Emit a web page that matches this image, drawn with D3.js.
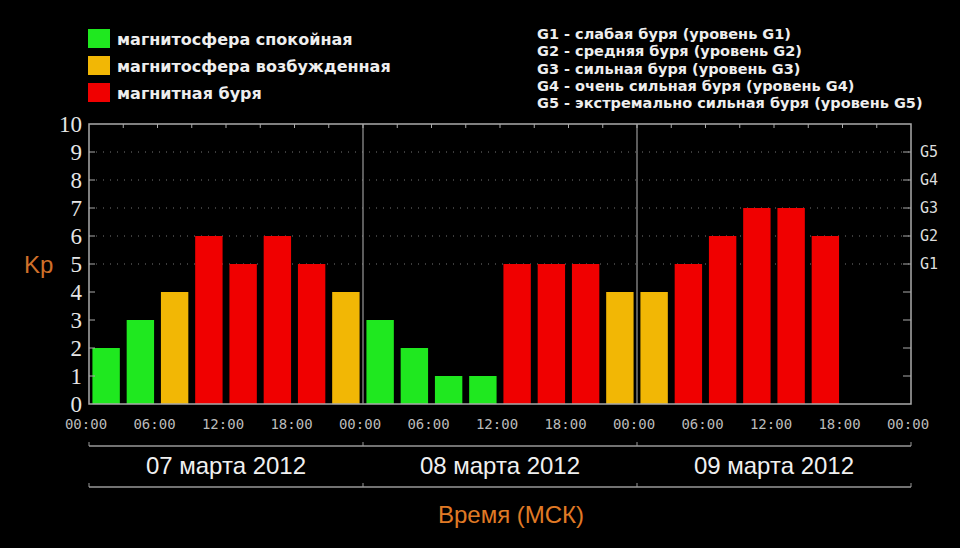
<!DOCTYPE html>
<html>
<head>
<meta charset="utf-8">
<script src="https://cdn.jsdelivr.net/npm/d3@7"></script>
<style>
  body { margin: 0; background: #000; }
  svg { display: block; background: #000; }
</style>
</head>
<body>
<div id="vis"></div>
<script>
const FRAME_WIDTH = 960;
const FRAME_HEIGHT = 548;
const MARGINS = {left: 89, right: 49, top: 124, bottom: 144};
const VIS_WIDTH = FRAME_WIDTH - MARGINS.left - MARGINS.right;
const VIS_HEIGHT = FRAME_HEIGHT - MARGINS.top - MARGINS.bottom;

// data: Kp index, 3-hour intervals
const days = ["07 марта 2012", "08 марта 2012", "09 марта 2012"];
const kpDay1 = [2, 3, 4, 6, 5, 6, 5, 4];
const kpDay2 = [3, 2, 1, 1, 5, 5, 5, 4];
const kpDay3 = [4, 5, 6, 7, 7, 6];
const hourLabels = ["00:00", "06:00", "12:00", "18:00"];
const yTicks = [0, 1, 2, 3, 4, 5, 6, 7, 8, 9, 10];
const gLevels = ["G1", "G2", "G3", "G4", "G5"];
const legendItems = ["магнитосфера спокойная", "магнитосфера возбужденная", "магнитная буря"];
const legendColors = ["#1fe81f", "#f2b705", "#f00000"];
const gDescriptions = [
  "G1 - слабая буря (уровень G1)",
  "G2 - средняя буря (уровень G2)",
  "G3 - сильная буря (уровень G3)",
  "G4 - очень сильная буря (уровень G4)",
  "G5 - экстремально сильная буря (уровень G5)"
];

const bars = [];
[kpDay1, kpDay2, kpDay3].forEach((arr, di) => {
  arr.forEach((v, i) => { bars.push({hour: di * 24 + i * 3, kp: v}); });
});

function kpColor(v) {
  if (v < 4) return legendColors[0];
  if (v < 5) return legendColors[1];
  return legendColors[2];
}

const FRAME = d3.select("#vis")
                .append("svg")
                .attr("width", FRAME_WIDTH)
                .attr("height", FRAME_HEIGHT);

const X_SCALE = d3.scaleLinear().domain([0, 72]).range([0, VIS_WIDTH]);
const Y_SCALE = d3.scaleLinear().domain([0, 10]).range([VIS_HEIGHT, 0]);

const G = FRAME.append("g")
               .attr("transform", "translate(" + MARGINS.left + "," + MARGINS.top + ")");

// dotted grid for storm levels
G.selectAll(".grid")
 .data([5, 6, 7, 8, 9])
 .enter()
 .append("line")
   .attr("x1", 0).attr("x2", VIS_WIDTH)
   .attr("y1", d => Y_SCALE(d)).attr("y2", d => Y_SCALE(d))
   .attr("stroke", "#777")
   .attr("stroke-width", 1)
   .attr("stroke-dasharray", "1,6");

// bars
const slot = X_SCALE(3) - X_SCALE(0);
G.selectAll(".bar")
 .data(bars)
 .enter()
 .append("rect")
   .attr("x", d => X_SCALE(d.hour) + slot * 0.1)
   .attr("width", slot * 0.8)
   .attr("y", d => Y_SCALE(d.kp))
   .attr("height", d => VIS_HEIGHT - Y_SCALE(d.kp))
   .attr("fill", d => kpColor(d.kp));

// frame and day separators
G.append("rect")
 .attr("x", 0).attr("y", 0)
 .attr("width", VIS_WIDTH).attr("height", VIS_HEIGHT)
 .attr("fill", "none")
 .attr("stroke", "#aaa")
 .attr("stroke-width", 1.5);

G.selectAll(".sep")
 .data([24, 48])
 .enter()
 .append("line")
   .attr("x1", d => X_SCALE(d)).attr("x2", d => X_SCALE(d))
   .attr("y1", 0).attr("y2", VIS_HEIGHT)
   .attr("stroke", "#999")
   .attr("stroke-width", 1.2);

// small ticks along top edge every 3 hours
G.selectAll(".ttick")
 .data(d3.range(3, 72, 3))
 .enter()
 .append("line")
   .attr("x1", d => X_SCALE(d)).attr("x2", d => X_SCALE(d))
   .attr("y1", 0).attr("y2", 4)
   .attr("stroke", "#aaa");

// inner ticks on left and right axes
G.selectAll(".ltick")
 .data(yTicks.slice(1, 10))
 .enter()
 .append("line")
   .attr("x1", 0).attr("x2", 6)
   .attr("y1", d => Y_SCALE(d)).attr("y2", d => Y_SCALE(d))
   .attr("stroke", "#aaa");

G.selectAll(".rtick")
 .data(yTicks.slice(1, 10))
 .enter()
 .append("line")
   .attr("x1", VIS_WIDTH - 8).attr("x2", VIS_WIDTH)
   .attr("y1", d => Y_SCALE(d)).attr("y2", d => Y_SCALE(d))
   .attr("stroke", "#aaa");

// y labels
G.selectAll(".ylab")
 .data(yTicks)
 .enter()
 .append("text")
   .attr("x", -7)
   .attr("y", d => Y_SCALE(d) + 8)
   .attr("text-anchor", "end")
   .attr("font-family", "Liberation Serif")
   .attr("font-size", "23px")
   .attr("fill", "#e6e6e6")
   .text(d => d);

// G levels right
G.selectAll(".glab")
 .data(gLevels)
 .enter()
 .append("text")
   .attr("x", VIS_WIDTH + 9)
   .attr("y", (d, i) => Y_SCALE(i + 5) + 5)
   .attr("font-family", "DejaVu Sans Mono")
   .attr("font-size", "15px")
   .attr("fill", "#ddd")
   .text(d => d);

// x hour labels
const hourTicks = d3.range(0, 73, 6);
G.selectAll(".xlab")
 .data(hourTicks)
 .enter()
 .append("text")
   .attr("x", d => X_SCALE(d) - 3)
   .attr("y", VIS_HEIGHT + 25)
   .attr("text-anchor", "middle")
   .attr("font-family", "DejaVu Sans Mono")
   .attr("font-size", "14px")
   .attr("fill", "#bbb")
   .text(d => hourLabels[(d / 6) % 4]);

// date bracket
[42, 83].forEach(off => {
  G.append("line")
   .attr("x1", 0).attr("x2", VIS_WIDTH)
   .attr("y1", VIS_HEIGHT + off).attr("y2", VIS_HEIGHT + off)
   .attr("stroke", "#999").attr("stroke-width", 1.5);
  G.selectAll(null)
   .data([0, 24, 48, 72])
   .enter()
   .append("line")
     .attr("x1", d => X_SCALE(d)).attr("x2", d => X_SCALE(d))
     .attr("y1", VIS_HEIGHT + off - 4).attr("y2", VIS_HEIGHT + off)
     .attr("stroke", "#999");
});

G.selectAll(".dlab")
 .data(days)
 .enter()
 .append("text")
   .attr("x", (d, i) => X_SCALE(i * 24 + 12))
   .attr("y", VIS_HEIGHT + 70)
   .attr("text-anchor", "middle")
   .attr("font-family", "Liberation Sans")
   .attr("font-size", "24px")
   .attr("fill", "#f0f0f0")
   .text(d => d);

// axis titles
FRAME.append("text")
     .attr("x", 24).attr("y", 273)
     .attr("font-family", "Liberation Sans")
     .attr("font-size", "24px")
     .attr("fill", "#d0702a")
     .text("Kp");

FRAME.append("text")
     .attr("x", 511).attr("y", 523)
     .attr("text-anchor", "middle")
     .attr("font-family", "Liberation Sans")
     .attr("font-size", "24px")
     .attr("fill", "#e07a25")
     .text("Время (МСК)");

// legend
const LEG = FRAME.append("g");
LEG.selectAll("rect")
   .data(legendItems)
   .enter()
   .append("rect")
     .attr("x", 88).attr("y", (d, i) => 29 + i * 27)
     .attr("width", 22).attr("height", 19)
     .attr("fill", (d, i) => legendColors[i]);
LEG.selectAll("text")
   .data(legendItems)
   .enter()
   .append("text")
     .attr("x", 117).attr("y", (d, i) => 45 + i * 27)
     .attr("font-family", "DejaVu Sans")
     .attr("font-weight", "bold")
     .attr("font-size", "16px")
     .attr("fill", "#eee")
     .text(d => d);

FRAME.append("g")
     .selectAll("text")
     .data(gDescriptions)
     .enter()
     .append("text")
       .attr("x", 537).attr("y", (d, i) => 39 + i * 17.3)
       .attr("font-family", "DejaVu Sans")
       .attr("font-weight", "bold")
       .attr("font-size", "14.5px")
       .attr("fill", "#eee")
       .text(d => d);
</script>
</body>
</html>
